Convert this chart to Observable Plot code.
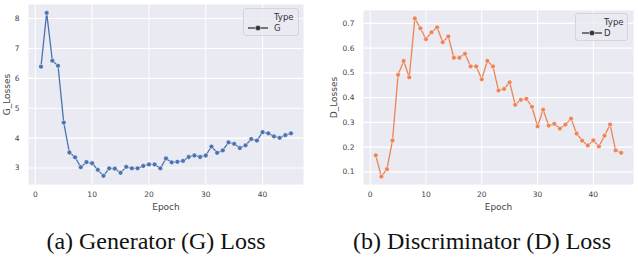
<!DOCTYPE html>
<html>
<head>
<meta charset="utf-8">
<script src="https://cdn.jsdelivr.net/npm/d3@7"></script>
<script src="https://cdn.jsdelivr.net/npm/@observablehq/plot@0.6"></script>
<style>
  body { margin: 0; background: #fff; }
  #wrap { position: relative; width: 638px; height: 264px; overflow: hidden; font-family: "DejaVu Sans", sans-serif; }
  .panel { position: absolute; top: 0; }
  .panel g[aria-label="y-axis label"] text,
  .panel g[aria-label="x-axis label"] text { font-size: 9px; }
  .legend { position: absolute; border: 1px solid #d4d4dc; border-radius: 3px; background: rgba(234,234,242,0.8);
            font-size: 8.5px; color: #333; box-sizing: border-box; }
  .legend .t { position: absolute; line-height: 1; }
  .caption { position: absolute; top: 228px; font-family: "Liberation Serif", "Times New Roman", serif; font-size: 24px; color: #111; white-space: nowrap; transform: translateX(-50%); }
</style>
</head>
<body>
<div id="wrap"></div>
<script>
const epochs = d3.range(1, 46);
const gLoss = [6.39, 8.19, 6.59, 6.42, 4.52, 3.52, 3.36, 3.03, 3.20, 3.16,
  2.94, 2.74, 2.99, 2.98, 2.84, 3.04, 2.99, 2.99, 3.07, 3.12,
  3.12, 2.99, 3.32, 3.19, 3.21, 3.24, 3.37, 3.42, 3.37, 3.42,
  3.72, 3.51, 3.59, 3.86, 3.81, 3.67, 3.76, 3.97, 3.92, 4.20,
  4.16, 4.06, 4.01, 4.10, 4.16];
const dLoss = [0.167, 0.081, 0.111, 0.227, 0.492, 0.548, 0.482, 0.720, 0.680, 0.636,
  0.664, 0.684, 0.624, 0.647, 0.561, 0.561, 0.577, 0.526, 0.526, 0.474,
  0.548, 0.526, 0.429, 0.435, 0.462, 0.371, 0.391, 0.395, 0.363, 0.284,
  0.351, 0.287, 0.294, 0.275, 0.291, 0.315, 0.255, 0.226, 0.207, 0.227,
  0.203, 0.246, 0.291, 0.187, 0.177];
const xTicks = [0, 10, 20, 30, 40];
const gTicks = [3, 4, 5, 6, 7, 8];
const dTicks = [0.1, 0.2, 0.3, 0.4, 0.5, 0.6, 0.7];
const gColor = "#4C72B0";
const dColor = "#EC8458";

function panel(values, color, yDomain, yTicks, yLabel, opts) {
  const data = epochs.map((e, i) => ({epoch: e, loss: values[i]}));
  return Plot.plot({
    width: opts.width, height: 215,
    marginLeft: opts.ml, marginRight: opts.mr, marginTop: opts.mt, marginBottom: 31,
    style: {fontFamily: "DejaVu Sans, sans-serif", fontSize: "7.5px", color: "#444", background: "transparent", overflow: "visible"},
    x: {domain: [-1.2, 47.2]},
    y: {domain: yDomain},
    marks: [
      Plot.frame({fill: "#EAEAF2", stroke: null}),
      Plot.gridX(xTicks, {stroke: "#fff", strokeOpacity: 1, strokeWidth: 1}),
      Plot.gridY(yTicks, {stroke: "#fff", strokeOpacity: 1, strokeWidth: 1.1}),
      Plot.axisX(xTicks, {tickSize: 0, tickPadding: 7, label: "Epoch", labelAnchor: "center", labelOffset: 25, labelArrow: "none"}),
      Plot.axisY(yTicks, {tickSize: 0, tickPadding: 9, label: yLabel, labelAnchor: "center", labelOffset: opts.lo, labelArrow: "none", tickFormat: opts.fmt}),
      Plot.line(data, {x: "epoch", y: "loss", stroke: color, strokeWidth: 1.3}),
      Plot.dot(data, {x: "epoch", y: "loss", fill: color, stroke: "#fff", strokeWidth: 0.5, r: 2.4})
    ]
  });
}

const wrap = document.getElementById("wrap");
const left = panel(gLoss, gColor, [2.45, 8.47], gTicks, "G_Losses", {width: 310, ml: 28, mr: 7, mt: 4, lo: 25, fmt: d3.format("d")});
left.classList.add("panel"); left.style.left = "0px";
wrap.appendChild(left);
const right = panel(dLoss, dColor, [0.049, 0.752], dTicks, "D_Losses", {width: 318, ml: 43, mr: 5, mt: 10, lo: 33, fmt: d3.format(".1f")});
right.classList.add("panel"); right.style.left = "320px";
wrap.appendChild(right);

function legend(x, y, w, h, label, lineX0, textX) {
  const div = document.createElement("div");
  div.className = "legend";
  Object.assign(div.style, {left: x + "px", top: y + "px", width: w + "px", height: h + "px"});
  div.innerHTML = `<span class="t" style="left:${textX}px;top:4px">Type</span>
    <svg class="t" style="left:${lineX0}px;top:15px" width="22" height="8">
      <line x1="1" x2="21" y1="4" y2="4" stroke="#333" stroke-width="1.3"/>
      <circle cx="11" cy="4" r="2.7" fill="#333" stroke="#fff" stroke-width="0.5"/></svg>
    <span class="t" style="left:${textX}px;top:15px">${label}</span>`;
  wrap.appendChild(div);
}
legend(243, 8, 56, 28, "G", 3, 30);
legend(575, 13, 53, 28, "D", 5, 28);

function caption(text, cx) {
  const d = document.createElement("div");
  d.className = "caption"; d.textContent = text; d.style.left = cx + "px";
  wrap.appendChild(d);
}
caption("(a) Generator (G) Loss", 156);
caption("(b) Discriminator (D) Loss", 482);
</script>
</body>
</html>
